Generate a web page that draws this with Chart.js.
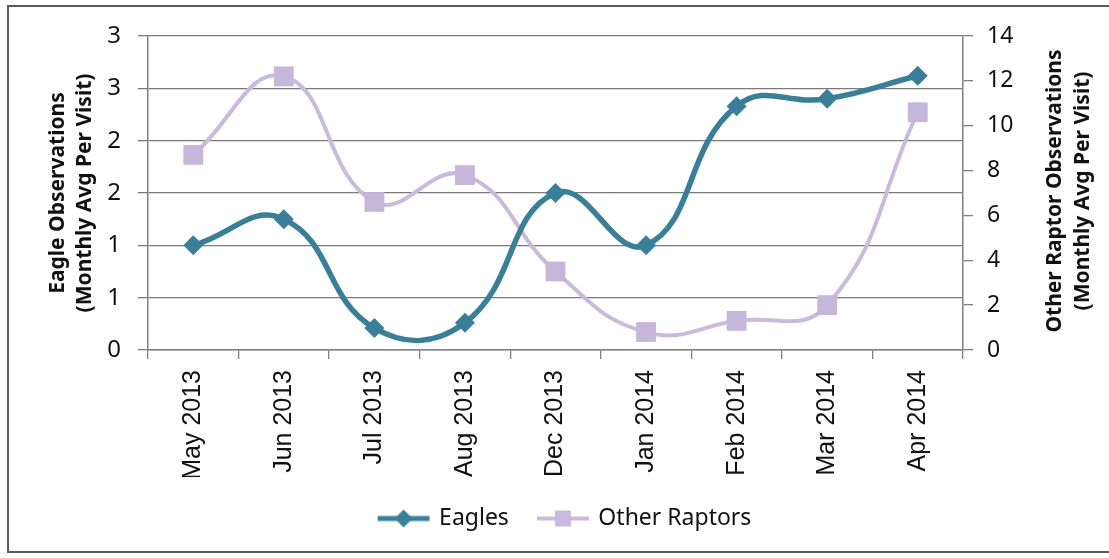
<!DOCTYPE html>
<html><head><meta charset="utf-8">
<script src="https://cdn.jsdelivr.net/npm/chart.js@4.4.1/dist/chart.umd.min.js"></script>
<style>html,body{margin:0;padding:0;background:#fff;} canvas{display:block;}</style>
</head><body>
<canvas id="c" width="1109" height="558"></canvas>
<script>
const categories = ['May 2013','Jun 2013','Jul 2013','Aug 2013','Dec 2013','Jan 2014','Feb 2014','Mar 2014','Apr 2014'];
const eagles = [1.0, 1.25, 0.21, 0.26, 1.5, 1.0, 2.33, 2.4, 2.62];
const otherRaptors = [8.7, 12.2, 6.6, 7.8, 3.5, 0.8, 1.3, 2.0, 10.6];
const seriesNames = ['Eagles', 'Other Raptors'];
const leftTickLabels = ['0','1','1','2','2','3','3'];
const rightTickLabels = ['0','2','4','6','8','10','12','14'];
const leftTitle = ['Eagle Observations', '(Monthly Avg Per Visit)'];
const rightTitle = ['Other Raptor Observations', '(Monthly Avg Per Visit)'];

const TEAL = '#3a7f98';
const LAV = '#c9bade';

function legendImg(color, style, lw) {
  const c = document.createElement('canvas');
  c.width = 56; c.height = 24;
  const g = c.getContext('2d');
  g.strokeStyle = color; g.lineWidth = lw;
  g.beginPath(); g.moveTo(2, 12); g.lineTo(54, 12); g.stroke();
  g.fillStyle = color;
  g.beginPath();
  if (style === 'diamond') {
    g.moveTo(28, 3); g.lineTo(37, 12); g.lineTo(28, 21); g.lineTo(19, 12); g.closePath();
  } else {
    g.rect(20, 4, 16, 16);
  }
  g.fill();
  return c;
}
const legendImages = [legendImg(TEAL, 'diamond', 5), legendImg(LAV, 'square', 4)];

const framePlugin = {
  id: 'frame',
  beforeDraw(chart) {
    const ctx = chart.ctx;
    ctx.save();
    ctx.fillStyle = '#fff';
    ctx.fillRect(0, 0, chart.width, chart.height);
    ctx.strokeStyle = '#5a5a5a';
    ctx.lineWidth = 2;
    ctx.strokeRect(8, 6, 1110, 546);
    ctx.restore();
  },
  afterLayout(chart) {
    if (chart.legend) { chart.legend.left += 22; }
  },
  afterDraw(chart) {
    const ctx = chart.ctx;
    ctx.save();
    ctx.fillStyle = '#111';
    ctx.font = "bold 21px 'Noto Sans'";
    ctx.textAlign = 'center';
    ctx.textBaseline = 'middle';
    const drawV = (txt, x, y) => {
      ctx.save(); ctx.translate(x, y); ctx.rotate(-Math.PI / 2); ctx.fillText(txt, 0, 0); ctx.restore();
    };
    drawV(leftTitle[0], 58, 193);
    drawV(leftTitle[1], 85, 193);
    drawV(rightTitle[0], 1055, 191);
    drawV(rightTitle[1], 1083, 191);
    ctx.restore();
  }
};

new Chart(document.getElementById('c'), {
  type: 'line',
  data: {
    labels: categories,
    datasets: [
      {
        label: seriesNames[0], data: eagles, yAxisID: 'y',
        borderColor: TEAL, backgroundColor: TEAL, borderWidth: 5.5,
        pointStyle: 'rectRot', pointRadius: 10, pointHoverRadius: 10,
        pointBackgroundColor: TEAL, pointBorderColor: TEAL, pointBorderWidth: 0,
        tension: 0.45, fill: false
      },
      {
        label: seriesNames[1], data: otherRaptors, yAxisID: 'y1',
        borderColor: LAV, backgroundColor: LAV, borderWidth: 4,
        pointStyle: 'rect', pointRadius: 14, pointHoverRadius: 14,
        pointBackgroundColor: '#c5b6da', pointBorderColor: '#c5b6da', pointBorderWidth: 0,
        tension: 0.45, fill: false
      }
    ]
  },
  options: {
    responsive: false,
    animation: false,
    devicePixelRatio: 1,
    layout: { padding: { top: 36, left: 0, right: 0, bottom: 18 } },
    plugins: {
      tooltip: { enabled: false },
      legend: {
        position: 'bottom',
        labels: {
          usePointStyle: true,
          pointStyleWidth: 48,
          padding: 30,
          color: '#111',
          font: { family: "'Noto Sans'", size: 23 },
          generateLabels(chart) {
            return chart.data.datasets.map((ds, i) => ({
              text: ds.label,
              pointStyle: legendImages[i],
              fillStyle: ds.borderColor,
              strokeStyle: ds.borderColor,
              lineWidth: 0,
              hidden: false,
              datasetIndex: i,
              fontColor: '#111'
            }));
          }
        }
      }
    },
    scales: {
      x: {
        type: 'category',
        offset: true,
        afterFit(s) { s.height = 127; },
        grid: { offset: true, drawOnChartArea: false, tickLength: 9, color: '#808080', lineWidth: 1.3 },
        border: { display: true, color: '#808080', width: 1.5 },
        ticks: {
          minRotation: 90, maxRotation: 90, padding: 11, autoSkip: false,
          color: '#111', font: { family: "'Liberation Sans'", size: 25 }
        }
      },
      y: {
        position: 'left',
        min: 0, max: 3,
        afterFit(s) { s.width = 148; },
        afterBuildTicks(s) { s.ticks = leftTickLabels.map((_, i) => ({ value: i * 0.5 })); },
        grid: { color: '#7a7a7a', lineWidth: 1.3, tickLength: 10, drawTicks: true },
        border: { display: true, color: '#808080', width: 1.5 },
        ticks: {
          padding: 17, color: '#111',
          font: { family: "'Noto Sans'", size: 24 },
          callback(v, i) { return leftTickLabels[i]; }
        }
      },
      y1: {
        position: 'right',
        min: 0, max: 14,
        afterFit(s) { s.width = 146; },
        afterBuildTicks(s) { s.ticks = rightTickLabels.map(t => ({ value: Number(t) })); },
        grid: { drawOnChartArea: false, tickLength: 10, color: '#808080', lineWidth: 1.3 },
        border: { display: true, color: '#808080', width: 1.5 },
        ticks: {
          padding: 14, color: '#111',
          font: { family: "'Noto Sans'", size: 23 },
          callback(v, i) { return rightTickLabels[i]; }
        }
      }
    }
  },
  plugins: [framePlugin]
});
</script>
</body></html>
